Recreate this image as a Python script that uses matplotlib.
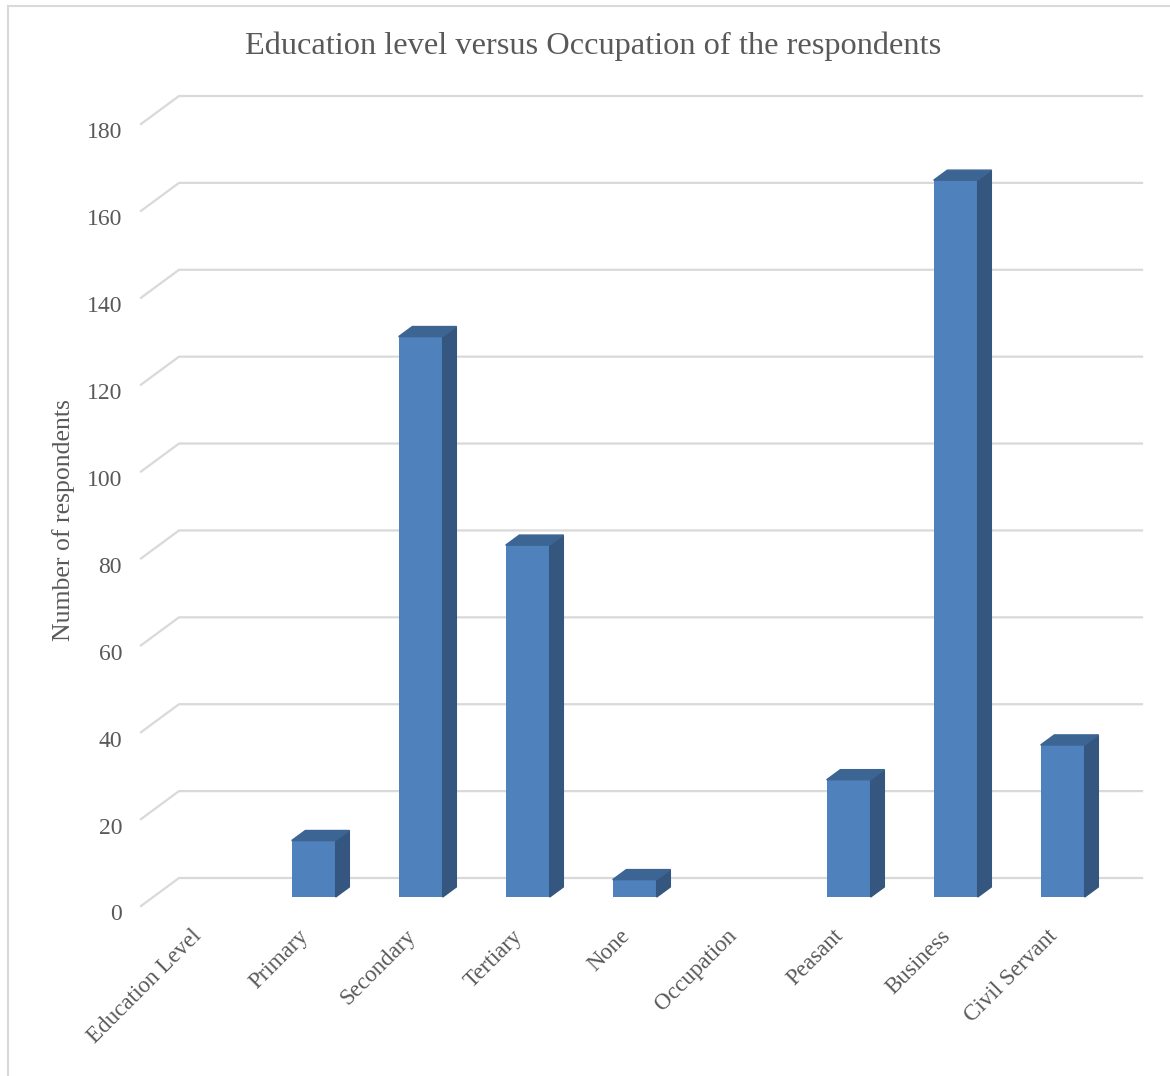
import numpy as np
import matplotlib.pyplot as plt
from matplotlib.patches import Polygon

plt.rcParams['font.family'] = ['Liberation Serif', 'DejaVu Serif']

title = "Education level versus Occupation of the respondents"
categories = ["Education Level", "Primary", "Secondary", "Tertiary", "None",
              "Occupation", "Peasant", "Business", "Civil Servant"]
counts = [None, 13, 129, 81, 4, None, 27, 165, 35]
y_ticks = np.arange(0, 181, 20)

W, H = 1170, 1076
text_col = '#595959'
grid_col = '#d9d9d9'
front_col = '#4f81bd'
side_col = '#34567f'
top_col = '#3d6594'

fig = plt.figure(figsize=(W / 100, H / 100), dpi=100)
ax = fig.add_axes([141 / W, (H - 906) / H, 963 / W, 782 / H])
ax.set_xlim(-0.5, len(categories) - 0.5)
ax.set_ylim(0, 180)
ax.axis('off')

# oblique "3d" depth of the floor, in data units
px_x = 963 / len(categories)
px_y = 782 / 180
dx, dy = 38 / px_x, 28 / px_y
f0, f1 = 0.32, 0.68   # bar front / back position inside the depth
w = 44 / px_x

# gridlines : front left slant + back wall
for v in y_ticks:
    ax.plot([-0.5, -0.5 + dx, len(categories) - 0.5 + dx], [v, v + dy, v + dy],
            color=grid_col, lw=1.6, clip_on=False, zorder=1)
    ax.annotate(str(v), xy=(-0.5, v), xytext=(-19 * 0.72, -9 * 0.72),
                textcoords='offset points', ha='right', va='center',
                fontsize=17, color=text_col)

# bars
for i, v in enumerate(counts):
    if v is None:
        continue
    xc = i + f0 * dx
    y0 = f0 * dy
    ax.bar(xc, v, width=w, bottom=y0, color=front_col, zorder=3, clip_on=False)
    x0, x1 = xc - w / 2, xc + w / 2
    top = y0 + v
    ddx, ddy = (f1 - f0) * dx, (f1 - f0) * dy
    ax.add_patch(Polygon([(x1, y0), (x1 + ddx, y0 + ddy), (x1 + ddx, top + ddy), (x1, top)],
                         closed=True, color=side_col, zorder=3, clip_on=False))
    ax.add_patch(Polygon([(x0, top), (x1, top), (x1 + ddx, top + ddy), (x0 + ddx, top + ddy)],
                         closed=True, color=top_col, zorder=3, clip_on=False))

# category labels
for i, c in enumerate(categories):
    ax.annotate(c, xy=(i, 0), xytext=(4 * 0.72, -27 * 0.72), textcoords='offset points',
                ha='right', va='center', rotation=45, rotation_mode='anchor',
                fontsize=16.6, color=text_col)

fig.text(64 / W, 1 - 520 / H, "Number of respondents", rotation=90,
         ha='center', va='center', fontsize=18.5, color=text_col)
fig.text(593 / W, 1 - 46 / H, title, ha='center', va='center',
         fontsize=23.3, color=text_col)

# chart area border
fig.add_artist(plt.Line2D([8 / W, 8 / W], [0, 1 - 6 / H], color=grid_col, lw=1.5))
fig.add_artist(plt.Line2D([8 / W, 1], [1 - 6 / H, 1 - 6 / H], color=grid_col, lw=1.5))

fig.savefig('out.png', dpi=100)
